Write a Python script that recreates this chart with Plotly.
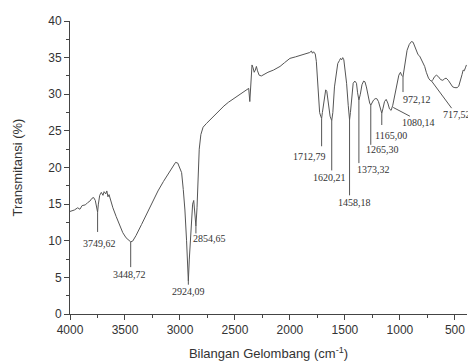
import plotly.graph_objects as go

# Spectrum (wavenumber cm^-1, transmittance %)
wavenumber = [4000, 3960, 3930, 3910, 3890, 3860, 3840, 3820, 3800, 3785, 3770, 3755, 3749, 3742,
              3730, 3715, 3700, 3690, 3675, 3665, 3655, 3645, 3630, 3610, 3580, 3550, 3520, 3490,
              3460, 3448, 3430, 3400, 3350, 3300, 3250, 3200, 3150, 3100, 3060, 3040, 3020, 3000,
              2985, 2970, 2955, 2940, 2930, 2924, 2915, 2900, 2885, 2875, 2865, 2855, 2845, 2835,
              2825, 2810, 2790, 2760, 2720, 2680, 2640, 2600, 2560, 2500, 2450, 2400, 2375, 2365,
              2355, 2345, 2335, 2325, 2315, 2305, 2295, 2280, 2260, 2230, 2200, 2150, 2120, 2090,
              2050, 2000, 1950, 1900, 1850, 1820, 1805, 1795, 1785, 1770, 1760, 1750, 1740, 1730,
              1720, 1712, 1705, 1690, 1675, 1665, 1650, 1635, 1620, 1610, 1595, 1580, 1565, 1550,
              1540, 1530, 1520, 1510, 1500, 1485, 1470, 1458, 1450, 1440, 1425, 1410, 1395, 1385,
              1373, 1360, 1345, 1330, 1318, 1305, 1290, 1275, 1265, 1255, 1240, 1225, 1210, 1195,
              1180, 1165, 1155, 1140, 1125, 1110, 1095, 1080, 1065, 1045, 1025, 1010, 995, 985,
              972, 962, 950, 935, 915, 895, 880, 865, 850, 835, 820, 805, 790, 775, 760, 740, 725,
              712, 700, 685, 668, 650, 630, 610, 595, 580, 560, 540, 520, 500, 480, 465, 450, 435,
              425, 415, 405, 395]
transmittance = [14.0, 14.2, 14.5, 14.3, 14.8, 14.9, 15.2, 15.4, 15.8, 15.9, 15.5, 14.2, 13.9, 15.0,
                 16.2, 16.6, 16.2, 16.7, 16.4, 16.8, 16.0, 16.3, 15.4, 14.5, 13.3, 12.1, 11.1, 10.4,
                 9.95, 9.85, 9.95, 10.7, 12.2, 13.8, 15.4, 16.8, 18.1, 19.3, 20.3, 20.7, 20.6, 19.9,
                 19.3, 17.0, 14.2, 10.0, 6.5, 4.5, 7.5, 12.0, 15.0, 15.5, 14.0, 12.0, 14.5, 19.0,
                 22.5, 24.5, 25.5, 26.0, 26.6, 27.2, 27.9, 28.4, 28.9, 29.5, 30.0, 30.5, 30.8, 29.0,
                 31.0, 34.0, 33.6, 33.0, 33.3, 33.8, 33.2, 32.6, 32.5, 32.8, 33.0, 33.3, 33.5, 33.8,
                 34.3, 34.9, 35.1, 35.3, 35.5, 35.7, 35.9, 35.6, 35.8, 35.5, 34.5, 32.5, 29.5, 27.5,
                 27.0, 26.7, 27.5, 29.5, 30.6, 30.4, 29.0, 27.0, 26.4, 27.5, 31.0, 33.0, 34.2, 34.6,
                 34.9, 34.7, 35.0, 34.7, 33.5, 31.5, 28.5, 26.5, 27.5, 29.5, 31.5, 31.8, 31.5, 30.2,
                 29.2, 30.0, 31.3, 31.8, 31.7, 31.0, 29.8, 28.8, 28.5, 28.8, 29.2, 29.4, 29.4, 29.0,
                 28.0, 27.4, 28.0, 29.0, 29.3, 28.8, 28.0, 27.8, 28.5, 30.0, 31.5, 32.6, 33.0, 32.6,
                 32.4, 33.3, 34.8, 36.0, 36.8, 37.2, 37.1, 36.6, 36.0, 35.4, 35.2, 34.8, 34.4, 33.8,
                 33.0, 32.2, 31.9, 31.8, 32.0, 32.4, 32.6, 32.4, 32.0, 31.9, 32.1, 32.2, 31.9, 31.4,
                 31.0, 30.9, 30.9, 31.1, 31.8, 32.7, 33.3, 33.2, 33.6, 34.0]

# Peak labels
peak_labels = ["3749,62", "3448,72", "2924,09", "2854,65", "1712,79", "1620,21", "1458,18",
               "1373,32", "1265,30", "1165,00", "1080,14", "972,12", "717,52"]
# leader line start (x0,y0) -> end (x1,y1), label anchor (tx,ty)
leader_x0 = [3749, 3448, 2924, 2855, 1712, 1620, 1458, 1373, 1265, 1165, 1061, 972, 712]
leader_y0 = [13.9, 9.85, 4.5, 12.0, 26.7, 26.4, 26.5, 29.2, 28.5, 27.4, 28.2, 32.4, 31.8]
leader_x1 = [3749, 3448, 2924, 2855, 1712, 1620, 1458, 1373, 1265, 1165, 909, 972, 530]
leader_y1 = [11.2, 6.4, 4.0, 11.0, 22.9, 19.6, 16.2, 20.6, 23.1, 25.8, 27.0, 30.3, 28.1]
label_x = [3734, 3455, 2918, 2727, 1818, 1636, 1409, 1236, 1161, 1082, 827, 842, 400]
label_y = [9.6, 5.45, 3.1, 10.3, 21.5, 18.7, 15.2, 19.7, 22.4, 24.4, 26.1, 29.3, 27.3]
label_anchor = ["center"] * 12 + ["right"]
label_shift = [0] * 12 + [6]

fig = go.Figure()
fig.add_trace(go.Scatter(x=wavenumber, y=transmittance, mode="lines",
                         line=dict(color="#555555", width=1), hoverinfo="skip",
                         showlegend=False))

for x0, y0, x1, y1 in zip(leader_x0, leader_y0, leader_x1, leader_y1):
    fig.add_shape(type="line", xref="x", yref="y", x0=x0, y0=y0, x1=x1, y1=y1,
                  line=dict(color="#555555", width=1))

for txt, tx, ty, anc, sh in zip(peak_labels, label_x, label_y, label_anchor, label_shift):
    fig.add_annotation(x=tx, y=ty, xref="x", yref="y", text=txt, showarrow=False,
                       xanchor=anc, xshift=sh, borderpad=0,
                       font=dict(family="Liberation Serif, Times New Roman, serif",
                                 size=10, color="#333333"))

axis_font = dict(family="Liberation Sans, Arial, sans-serif", size=12, color="#333333")
fig.update_layout(
    width=468, height=354,
    margin=dict(l=62, r=9, t=13, b=48, autoexpand=False),
    paper_bgcolor="white", plot_bgcolor="white",
    font=axis_font,
    xaxis=dict(range=[4000, 390], tickvals=[4000, 3500, 3000, 2500, 2000, 1500, 1000, 500],
               automargin=False,
               showgrid=False, zeroline=False, showline=True, linecolor="#444444",
               linewidth=1, ticks="outside", ticklen=5, tickcolor="#444444",
               minor=dict(dtick=250, ticks="outside", ticklen=3, tickcolor="#444444"),
               tickfont=axis_font,
               title=dict(text="Bilangan Gelombang (cm<sup>-1</sup>)", standoff=12,
                          font=dict(family="Liberation Sans, Arial, sans-serif", size=13,
                                    color="#333333"))),
    yaxis=dict(range=[0, 40], tickvals=[0, 5, 10, 15, 20, 25, 30, 35, 40],
               automargin=False,
               showgrid=False, zeroline=False, showline=True, linecolor="#444444",
               linewidth=1, ticks="outside", ticklen=5, tickcolor="#444444",
               minor=dict(dtick=2.5, ticks="outside", ticklen=3, tickcolor="#444444"),
               tickfont=axis_font,
               title=dict(text="Transmitansi (%)", standoff=22,
                          font=dict(family="Liberation Sans, Arial, sans-serif", size=13,
                                    color="#333333"))),
)

fig.write_html("out.html")
